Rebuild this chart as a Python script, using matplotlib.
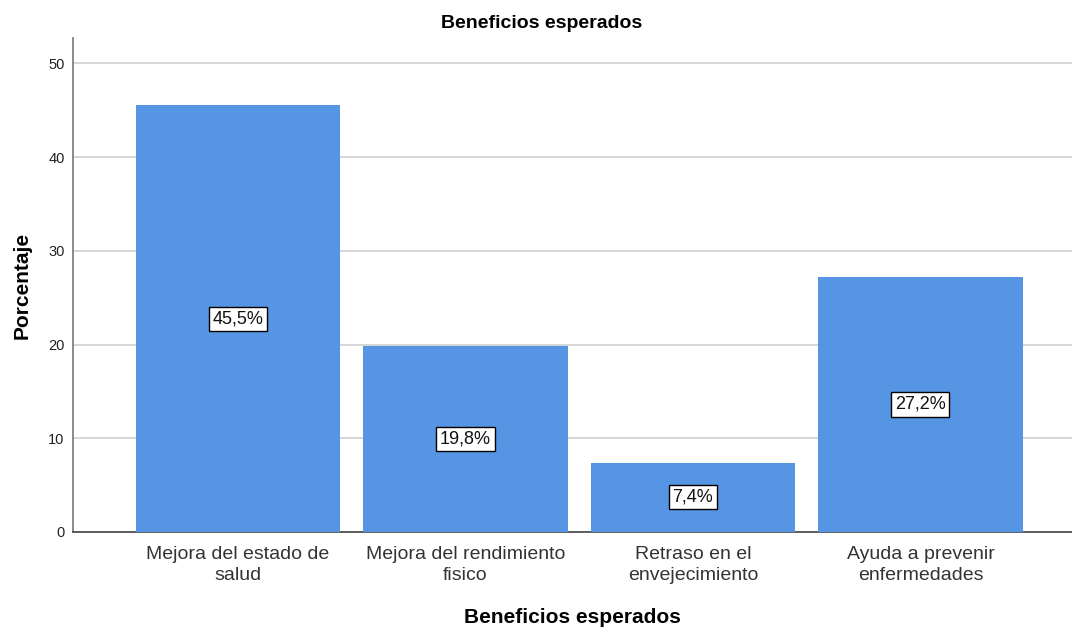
import numpy as np
import matplotlib.pyplot as plt

plt.rcParams['font.family'] = ['Liberation Sans', 'DejaVu Sans']

categories = ["Mejora del estado de\nsalud", "Mejora del rendimiento\nfisico",
              "Retraso en el\nenvejecimiento", "Ayuda a prevenir\nenfermedades"]
values = [45.5, 19.8, 7.4, 27.2]
labels = ["45,5%", "19,8%", "7,4%", "27,2%"]
yticks = [0, 10, 20, 30, 40, 50]

fig = plt.figure(figsize=(10.72, 6.28), dpi=100)
ax = fig.add_axes([0.0681, 0.1529, 0.9319, 0.7866])

x = np.arange(len(categories))
ax.bar(x, values, width=0.9, color="#5595E3", zorder=3)

for xi, v, lab in zip(x, values, labels):
    ax.text(xi, v / 2, lab, ha="center", va="center", fontsize=13, zorder=4, color="#111111",
            bbox=dict(boxstyle="square,pad=0.2", facecolor="white", edgecolor="black", linewidth=1))

ax.set_xlim(-0.725, 3.666)
ax.set_ylim(0, 52.7)
ax.set_yticks(yticks)
ax.yaxis.grid(True, color="#d0d0d0", linewidth=1.2, zorder=0)
ax.set_xticks(x)
ax.set_xticklabels(categories, fontsize=14, color="#333333", linespacing=1.35)
ax.tick_params(axis="y", length=0, labelsize=10.5, pad=6, labelcolor="#222222")
ax.tick_params(axis="x", length=0, pad=10)

for s in ["top", "right"]:
    ax.spines[s].set_visible(False)
ax.spines["left"].set_color("#777777")
ax.spines["bottom"].set_color("#444444")
ax.spines["left"].set_linewidth(1.2)
ax.spines["bottom"].set_linewidth(1.2)

fig.text(0.505, 0.962, "Beneficios esperados", fontsize=14, fontweight="bold",
         ha="center", va="center")
ax.set_xlabel("Beneficios esperados", fontsize=15, fontweight="bold", labelpad=17)
ax.set_ylabel("Porcentaje", fontsize=15, fontweight="bold", labelpad=12)

fig.savefig("out.png", dpi=100)
